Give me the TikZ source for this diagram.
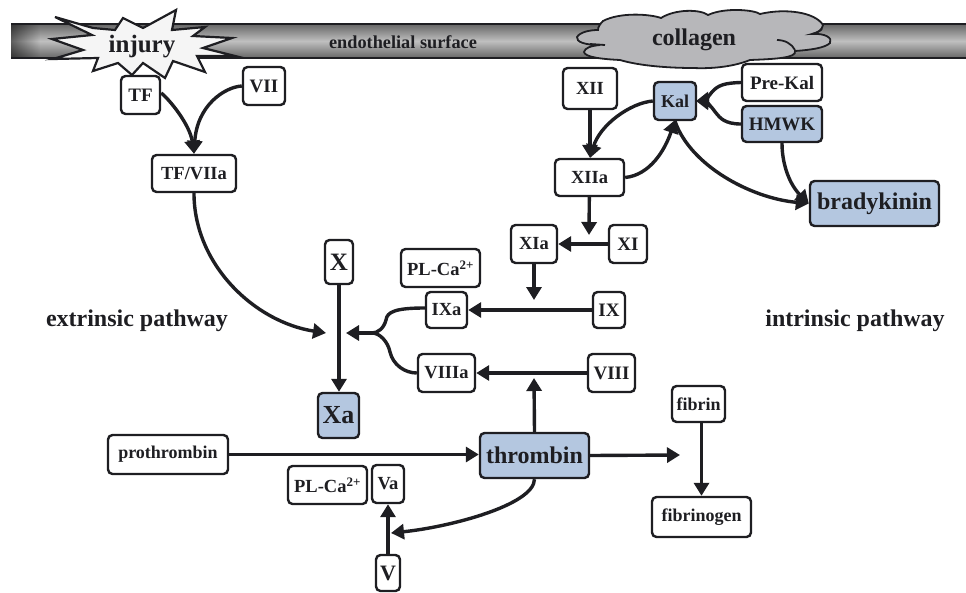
\documentclass[tikz,border=0pt]{standalone}
\usepackage{fontspec}
\setmainfont{Liberation Serif}
\usetikzlibrary{arrows.meta,calc,fadings}
\definecolor{blu}{HTML}{B4C7E0}
\definecolor{ink}{HTML}{1E1E22}
\tikzset{
 fac/.style={draw=ink,line width=2.4pt,rounded corners=4.5pt,fill=white,inner sep=0pt,text=ink,font=\bfseries\fontsize{#1}{#1}\selectfont},
 fac/.default=16,
 act/.style={fac=#1,fill=blu},
 act/.default=16,
 conn/.style={draw=ink,line width=3.4pt,-{Triangle[length=13pt,width=15pt]}},
 plain/.style={draw=ink,line width=3.4pt},
 lab/.style={text=ink,font=\bfseries\fontsize{#1}{#1}\selectfont,inner sep=0pt},
}
\begin{document}
\begin{tikzpicture}[x=1pt,y=-1pt]
\useasboundingbox (0,0) rectangle (966,592);
% bar
\shade[top color=black!60,bottom color=black!60,middle color=black!25] (11,24) rectangle (966,58);
\fill[black,opacity=.5,path fading=east] (11,24) rectangle (40,58);
\draw[ink,line width=1.8pt] (11,24) -- (966,24) (11,58) -- (966,58);
\node[lab=18.3] (surf) at (403,42) {endothelial surface};
% burst
\draw[ink,line width=2.2pt,fill=black!4,line join=miter]
 (55,17) -- (93,28) -- (115,30) -- (123,18) -- (143,28) -- (176,10) -- (172,30) -- (205,27) -- (193,36) -- (232,38) -- (203,48) -- (235,56) -- (197,56) -- (205,72) -- (173,61) -- (165,78) -- (143,63) -- (132,75) -- (118,63) -- (93,71) -- (98,58) -- (53,59) -- (83,50) -- (52,39) -- (92,35) -- cycle;
\node[lab=25] (inj) at (142,47) {injury};
% cloud
\draw[ink,line width=1.8pt,fill=black!25!blue!3!gray!55]
 (603,21) .. controls (620,12) and (650,14) .. (661,18)
 .. controls (675,9) and (700,9) .. (708,15)
 .. controls (725,7) and (755,10) .. (760,14)
 .. controls (785,8) and (815,12) .. (823,25)
 .. controls (822,30) and (818,33) .. (812,34)
 .. controls (825,33) and (833,38) .. (830,43)
 .. controls (825,48) and (810,50) .. (795,51)
 .. controls (797,58) and (775,59) .. (750,60)
 .. controls (735,66) and (715,69) .. (693,68)
 .. controls (670,68) and (640,66) .. (620,60)
 .. controls (600,59) and (585,57) .. (584,52)
 .. controls (585,48) and (590,46) .. (600,45)
 .. controls (585,45) and (576,42) .. (577,37)
 .. controls (580,32) and (590,30) .. (598,30)
 .. controls (598,27) and (600,24) .. (603,21) -- cycle;
\draw[ink,line width=1.8pt] (605,45) -- (590,44);
\draw[ink,line width=1.8pt] (777,40) .. controls (785,40) and (792,44) .. (795,50);
\draw[ink,line width=1.8pt] (812,34) .. controls (816,33) and (820,31) .. (822,29);
\node[lab=24] (col) at (694,40) {collagen};
% nodes
\node[fac=19,minimum width=39pt,minimum height=38pt] (TF) at (140.5,95) {TF};
\node[fac=19,minimum width=42pt,minimum height=38pt] (VII) at (264,86) {VII};
\node[fac=18.5,minimum width=84pt,minimum height=37pt] (TFa) at (194,173.5) {TF/VIIa};
\node[fac=25,minimum width=28pt,minimum height=44pt] (X) at (339,262) {X};
\node[act=26,minimum width=41pt,minimum height=45pt] (Xa) at (338.5,415.5) {Xa};
\node[fac=18.5,minimum width=79pt,minimum height=38pt] (PLa) at (440.5,268) {PL-Ca\textsuperscript{2+}};
\node[fac=18.5,minimum width=41pt,minimum height=36pt] (IXa) at (446.5,310) {IXa};
\node[fac=18.5,minimum width=57pt,minimum height=38pt] (VIIIa) at (446.5,373) {VIIIa};
\node[fac=19,minimum width=32pt,minimum height=36pt] (IX) at (609,310) {IX};
\node[fac=19,minimum width=47pt,minimum height=38pt] (VIII) at (611.5,373) {VIII};
\node[fac=18.5,minimum width=46pt,minimum height=38pt] (XIa) at (534,244) {XIa};
\node[fac=19,minimum width=38pt,minimum height=38pt] (XI) at (628,244) {XI};
\node[act=24,minimum width=109pt,minimum height=45pt] (thr) at (534.5,455.5) {thrombin};
\node[fac=18.5,minimum width=79pt,minimum height=38pt] (PLb) at (327.5,485) {PL-Ca\textsuperscript{2+}};
\node[fac=18.5,minimum width=32pt,minimum height=38pt] (Va) at (388,484) {Va};
\node[fac=22,minimum width=24pt,minimum height=36pt] (V) at (388,573) {V};
\node[fac=18.5,minimum width=54pt,minimum height=41pt] (XII) at (590,88.5) {XII};
\node[fac=18.5,minimum width=69pt,minimum height=37pt] (XIIa) at (589.5,177.5) {XIIa};
\node[act=18,minimum width=42pt,minimum height=38pt] (Kal) at (675,101) {Kal};
\node[fac=19,minimum width=80pt,minimum height=37pt] (Pre) at (782,82.5) {Pre-Kal};
\node[act=19,minimum width=80pt,minimum height=36pt] (HMWK) at (782,124) {HMWK};
\node[act=24,minimum width=129pt,minimum height=45pt] (bra) at (874.5,203.5) {bradykinin};
\node[fac=18,minimum width=120pt,minimum height=39pt] (pro) at (168,454.5) {prothrombin};
\node[fac=18,minimum width=53pt,minimum height=36pt] (fbn) at (698.5,404) {fibrin};
\node[fac=18,minimum width=99pt,minimum height=40pt] (fbg) at (701.5,517) {fibrinogen};
\node[lab=24] (ext) at (137,321) {extrinsic pathway};
\node[lab=24] (intr) at (855,321) {intrinsic pathway};
% free ends
\coordinate (c1) at (326,333);
\coordinate (c2) at (346,333);
\coordinate (c3) at (534,300);
\coordinate (c4) at (589,235);
\coordinate (c5) at (534,378);
\coordinate (c6) at (680,455);
\coordinate (c7) at (391,533);
\coordinate (j1) at (372,333);
\coordinate (j3) at (696,101);
% connectors
\draw[conn] (TF.east) ++(0,-2) .. controls (170,100) and (190,125) .. (TFa.north);
\draw[conn] (VII.west) .. controls (225,87) and (197,105) .. (TFa.north);
\draw[conn] (TFa.south) .. controls (194,265) and (255,322) .. (c1);
\draw[conn] (X) -- (X |- Xa.north);
\draw[plain] (IXa.west) ++(0,-2) .. controls (395,308) and (387,312) .. (386,320) .. controls (384,328) and (378,333) .. (j1);
\draw[plain] (VIIIa.west) .. controls (405,373) and (393,365) .. (390,352) .. controls (388,342) and (380,333) .. (j1);
\draw[conn] (j1) -- (c2);
\draw[conn] (IX) -- (IXa);
\draw[conn] (VIII) -- (VIIIa);
\draw[conn] (XI) -- (XIa);
\draw[conn] (XIa) -- (c3);
\draw[conn] (XII) -- (XII |- XIIa.north);
\draw[conn] (XIIa) -- (c4);
\draw[conn] (Kal.west) .. controls (630,103) and (600,125) .. (590,158);
\draw[conn] (XIIa.east) .. controls (650,175) and (665,150) .. (675,120);
\draw[conn] (Pre.west) .. controls (725,83) and (718,85) .. (712,92) .. controls (708,97) and (705,100) .. (j3);
\draw[conn] (HMWK.west) .. controls (725,124) and (720,118) .. (716,113) .. controls (712,107) and (706,102) .. (j3);
\draw[conn] (Kal.south) .. controls (690,165) and (750,198) .. (bra.west);
\draw[conn] (HMWK.south) .. controls (782,165) and (790,185) .. (bra.west);
\draw[conn] (pro.east) -- (pro.east -| thr.west);
\draw[conn] (thr.east) -- (c6);
\draw[conn] (thr.north) -- (c5);
\draw[conn] (fbg |- fbn.south) -- (fbg.north);
\draw[conn] (V) -- (Va);
\draw[conn] (thr.south) .. controls (534,505) and (450,527) .. (c7);
\end{tikzpicture}
\end{document}
